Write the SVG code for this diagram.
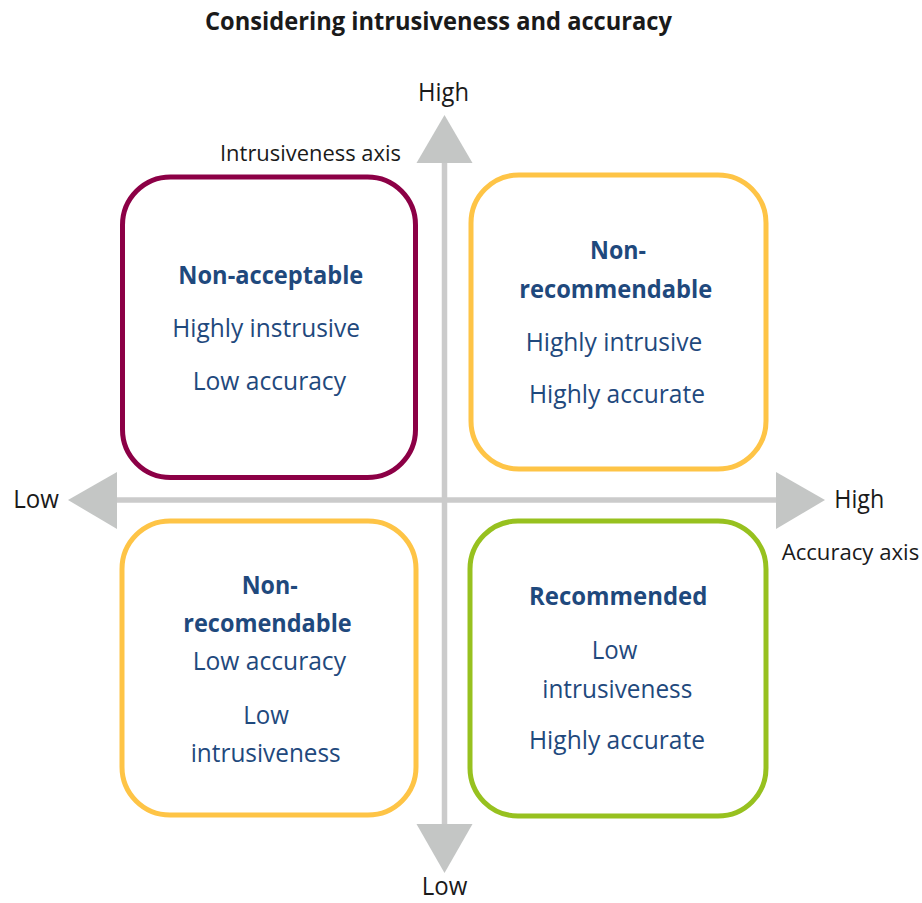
<svg xmlns="http://www.w3.org/2000/svg" width="922" height="903" viewBox="0 0 922 903">
<style>
.box{fill:#ffffff;stroke-width:5}
.t{font-family:"Open Sans","Noto Sans","Liberation Sans",sans-serif;font-size:25px;fill:#1f497d}
.b{font-weight:bold}
.ax{font-family:"Open Sans","Noto Sans","Liberation Sans",sans-serif;font-size:25px;fill:#1a1a1a}
.axs{font-size:22px}
.title{font-family:"Open Sans","Noto Sans","Liberation Sans",sans-serif;font-size:24.5px;font-weight:bold;fill:#1a1a1a}
.line{stroke:#cbcbcb;stroke-width:5.5;fill:none}
.head{fill:#c4c6c5}
</style>
<rect width="922" height="903" fill="#ffffff"/>
<text class="title" x="205" y="30" textLength="467" lengthAdjust="spacingAndGlyphs">Considering intrusiveness and accuracy</text>
<g id="connectors">
<line class="line" x1="444.5" y1="160" x2="444.5" y2="827"/>
<line class="line" x1="114" y1="500" x2="779" y2="500"/>
<polygon class="head" points="444.5,115 416.5,163 472.5,163"/>
<polygon class="head" points="444.5,873 416.5,824 472.5,824"/>
<polygon class="head" points="68,500 117,472 117,529"/>
<polygon class="head" points="825,500 776,472 776,529"/>
</g>
<g id="axis-labels">
<text class="ax" x="418" y="101" textLength="51" lengthAdjust="spacingAndGlyphs">High</text>
<text class="ax axs" x="220" y="161" textLength="181" lengthAdjust="spacingAndGlyphs">Intrusiveness axis</text>
<text class="ax" x="13.3" y="507.7" textLength="45.7" lengthAdjust="spacingAndGlyphs">Low</text>
<text class="ax" x="834.3" y="507.7" textLength="50" lengthAdjust="spacingAndGlyphs">High</text>
<text class="ax axs" x="781.7" y="559.5" textLength="137.5" lengthAdjust="spacingAndGlyphs">Accuracy axis</text>
<text class="ax" x="421.7" y="895" textLength="45.6" lengthAdjust="spacingAndGlyphs">Low</text>
</g>
<g id="non-acceptable">
<rect class="box" x="122.5" y="177" width="293" height="300.5" rx="48" stroke="#8c0046"/>
<text class="t b" x="178.3" y="284" textLength="185" lengthAdjust="spacingAndGlyphs">Non-acceptable</text>
<text class="t" x="172.3" y="337" textLength="187.7" lengthAdjust="spacingAndGlyphs">Highly instrusive</text>
<text class="t" x="192.7" y="390" textLength="153.3" lengthAdjust="spacingAndGlyphs">Low accuracy</text>
</g>
<g id="non-recommendable">
<rect class="box" x="471" y="175" width="295" height="294" rx="48" stroke="#fec446"/>
<text class="t b" x="590" y="259" textLength="56" lengthAdjust="spacingAndGlyphs">Non-</text>
<text class="t b" x="519.3" y="297.7" textLength="193" lengthAdjust="spacingAndGlyphs">recommendable</text>
<text class="t" x="525.7" y="351" textLength="176.6" lengthAdjust="spacingAndGlyphs">Highly intrusive</text>
<text class="t" x="529" y="403.3" textLength="176" lengthAdjust="spacingAndGlyphs">Highly accurate</text>
</g>
<g id="non-recomendable">
<rect class="box" x="122" y="521" width="294" height="294" rx="48" stroke="#fec446"/>
<text class="t b" x="241.7" y="594" textLength="56" lengthAdjust="spacingAndGlyphs">Non-</text>
<text class="t b" x="183.3" y="632.3" textLength="168.4" lengthAdjust="spacingAndGlyphs">recomendable</text>
<text class="t" x="192.7" y="670" textLength="153.3" lengthAdjust="spacingAndGlyphs">Low accuracy</text>
<text class="t" x="243.3" y="724" textLength="45.7" lengthAdjust="spacingAndGlyphs">Low</text>
<text class="t" x="190.7" y="762.3" textLength="150" lengthAdjust="spacingAndGlyphs">intrusiveness</text>
</g>
<g id="recommended">
<rect class="box" x="470" y="521" width="296" height="295" rx="48" stroke="#97c11f"/>
<text class="t b" x="529" y="605" textLength="178.3" lengthAdjust="spacingAndGlyphs">Recommended</text>
<text class="t" x="591.7" y="659" textLength="45.6" lengthAdjust="spacingAndGlyphs">Low</text>
<text class="t" x="542.3" y="697.7" textLength="150" lengthAdjust="spacingAndGlyphs">intrusiveness</text>
<text class="t" x="529" y="749.3" textLength="176" lengthAdjust="spacingAndGlyphs">Highly accurate</text>
</g>
</svg>
